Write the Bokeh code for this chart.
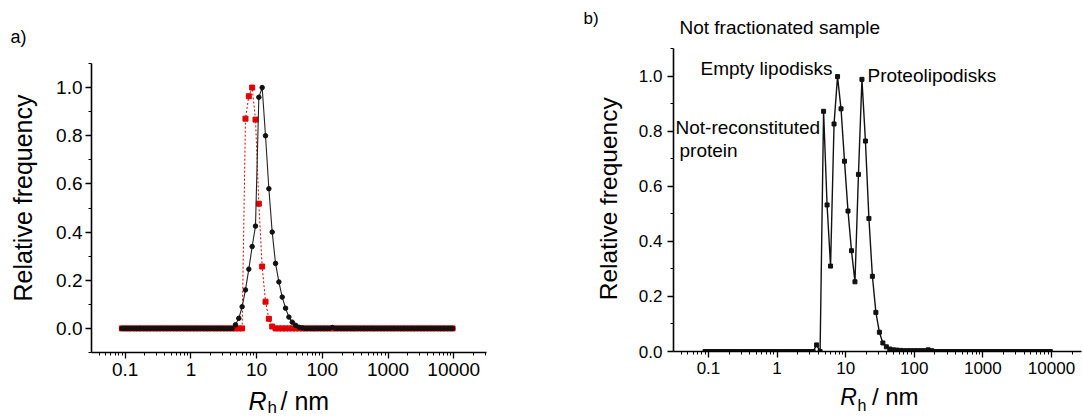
import numpy as np
from bokeh.plotting import figure
from bokeh.models import (FixedTicker, CustomJSTickFormatter, PrintfTickFormatter,
                          Label, Range1d, ColumnDataSource)
from bokeh.layouts import row, column
from bokeh.embed import file_html
from bokeh.resources import INLINE

# ---------------- data ----------------
# DLS size bins (log spaced instrument grid)
N_BINS = 100
RH_FIRST = 0.089
RH_LAST = 9600.0
rh_bins = np.geomspace(RH_FIRST, RH_LAST, N_BINS)

# panel a) black series (solid line, dots)
a_black_start = 34
a_black_peak = [0.015, 0.042, 0.09, 0.16, 0.246, 0.34, 0.425, 0.96, 1.0, 0.80,
                0.58, 0.40, 0.27, 0.193, 0.13, 0.084, 0.047, 0.026, 0.013,
                0.005, 0.002]
a_black_extra = {63: 0.004}

# panel a) red series (dotted line, squares)
a_red_start = 37
a_red_peak = [0.871, 0.964, 1.0, 0.867, 0.518, 0.257, 0.111, 0.04, 0.008]

# panel b) not fractionated sample
b_start = 32
b_peak = [0.024, 0.0, 0.872, 0.532, 0.31, 0.826, 0.998, 0.881, 0.691, 0.51,
          0.366, 0.253, 0.643, 0.988, 0.764, 0.483, 0.273, 0.142, 0.07, 0.031,
          0.017, 0.009, 0.006, 0.005, 0.004, 0.003, 0.003, 0.003, 0.003,
          0.003, 0.003, 0.003, 0.006, 0.003]

x_major_ticks = [0.1, 1, 10, 100, 1000, 10000]
y_major_ticks = [0.0, 0.2, 0.4, 0.6, 0.8, 1.0]
y_minor_ticks = [-0.1, 0.1, 0.3, 0.5, 0.7, 0.9, 1.1]

panel_tags = ["a)", "b)"]
y_title = "Relative frequency"
annotations_b = ["Not fractionated sample", "Empty lipodisks", "Proteolipodisks",
                 "Not-reconstituted", "protein"]


def build(start, peak, extra=None):
    y = np.zeros(N_BINS)
    y[start:start + len(peak)] = peak
    if extra:
        for k, v in extra.items():
            y[k] = v
    return y


a_black = build(a_black_start, a_black_peak, a_black_extra)
a_red = build(a_red_start, a_red_peak)
b_vals = build(b_start, b_peak)

x_minor_ticks = [m * 10.0 ** e for e in range(-2, 5) for m in range(2, 10)]

FONT = "Liberation Sans"
DY = 7  # baseline correction for labels


def style_axes(p, tick_size):
    for ax in (p.xaxis[0], p.yaxis[0]):
        ax.axis_line_color = "black"
        ax.axis_line_width = 1.6
        ax.major_tick_line_color = "black"
        ax.minor_tick_line_color = "black"
        ax.major_tick_line_width = 1.3
        ax.minor_tick_line_width = 1.0
        ax.major_tick_in = 0
        ax.major_tick_out = 6
        ax.minor_tick_in = 0
        ax.minor_tick_out = 3
        ax.major_label_text_font = FONT
        ax.major_label_text_font_size = tick_size
        ax.major_label_text_color = "black"
        ax.axis_label = None
    p.xaxis[0].ticker = FixedTicker(ticks=x_major_ticks, minor_ticks=x_minor_ticks)
    p.xaxis[0].formatter = CustomJSTickFormatter(code="return String(tick);")
    p.xaxis[0].major_label_standoff = 4
    p.yaxis[0].ticker = FixedTicker(ticks=y_major_ticks, minor_ticks=y_minor_ticks)
    p.yaxis[0].formatter = PrintfTickFormatter(format="%.1f")
    p.yaxis[0].major_label_standoff = 3
    p.grid.visible = False
    p.outline_line_color = None
    p.background_fill_color = "white"
    p.border_fill_color = "white"


def lab(p, x, y, text, size, **kw):
    p.add_layout(Label(x=x, y=y + DY, x_units="screen", y_units="screen", text=text,
                       text_font=FONT, text_font_size=size, text_color="black",
                       text_baseline="alphabetic", text_align="left", **kw))


def vlab(p, x, y, text, size):
    p.add_layout(Label(x=x, y=y, x_units="screen", y_units="screen", text=text,
                       text_font=FONT, text_font_size=size, text_color="black",
                       text_baseline="middle", text_align="center",
                       angle=np.pi / 2))


def strip(w, h, bl=0, br=0):
    s = figure(width=w, height=h, x_range=Range1d(0, 1), y_range=Range1d(0, 1),
               output_backend="svg", toolbar_location=None,
               min_border_left=bl, min_border_right=br, min_border_top=0,
               min_border_bottom=0, x_axis_location=None, y_axis_location=None)
    s.grid.visible = False
    s.outline_line_color = None
    s.background_fill_color = "white"
    s.border_fill_color = "white"
    return s


# ---------------- panel a ----------------
left_a = strip(51, 417)
lab(left_a, 10, 374, panel_tags[0], "18px")
vlab(left_a, 22, 219.5, y_title, "25px")

pa = figure(width=527, height=384, x_axis_type="log",
            x_range=Range1d(0.0307, 31500), y_range=Range1d(-0.1, 1.1),
            output_backend="svg", toolbar_location=None,
            min_border_left=40, min_border_right=92, min_border_top=63,
            min_border_bottom=32)
style_axes(pa, "19px")

src_a = ColumnDataSource(dict(x=rh_bins, black=a_black, red=a_red))
pa.line("x", "red", source=src_a, line_color="#e00000", line_width=1,
        line_dash="2 2")
pa.scatter("x", "red", source=src_a, marker="square", size=5,
           fill_color="#e00000", line_color="#e00000")
pa.line("x", "black", source=src_a, line_color="#222222", line_width=1.1)
pa.scatter("x", "black", source=src_a, marker="circle", size=4.5,
           fill_color="#111111", line_color="#111111")

bottom_a = strip(527, 33, 40, 92)
lab(bottom_a, 157, 10, "R", "25px", text_font_style="italic")
lab(bottom_a, 176, 3, "h", "17px")
lab(bottom_a, 189, 10, "/ nm", "25px")

group_a = row(left_a, column(pa, bottom_a))

# ---------------- panel b ----------------
left_b = strip(50, 417)
lab(left_b, 5, 392, panel_tags[1], "17px")
vlab(left_b, 30, 218.7, y_title, "24.5px")

top_b = strip(455, 44, 45, 2)
lab(top_b, 6, 10.5, annotations_b[0], "19px")

pb = figure(width=455, height=338, x_axis_type="log",
            x_range=Range1d(0.0309, 27400), y_range=Range1d(0.0, 1.1),
            output_backend="svg", toolbar_location=None,
            min_border_left=45, min_border_right=2, min_border_top=4,
            min_border_bottom=31)
style_axes(pb, "17px")
pb.xaxis[0].major_label_standoff = 4
pb.yaxis[0].major_label_standoff = 5

src_b = ColumnDataSource(dict(x=rh_bins, y=b_vals))
pb.line("x", "y", source=src_b, line_color="#111111", line_width=1.4)
pb.scatter("x", "y", source=src_b, marker="square", size=4,
           fill_color="#111111", line_color="#111111")

lab(pb, 27, 276, annotations_b[1], "19px")
lab(pb, 194, 269, annotations_b[2], "19px")
lab(pb, 2, 217, annotations_b[3], "19px")
lab(pb, 6, 194, annotations_b[4], "19px")

bottom_b = strip(455, 35, 45, 2)
lab(bottom_b, 166.7, 14, "R", "23px", text_font_style="italic")
lab(bottom_b, 184, 5, "h", "16px")
lab(bottom_b, 198.4, 14, "/ nm", "24px")

group_b = row(left_b, column(top_b, pb, bottom_b))

layout = row(group_a, group_b)
open("out.html", "w").write(file_html(layout, INLINE))
